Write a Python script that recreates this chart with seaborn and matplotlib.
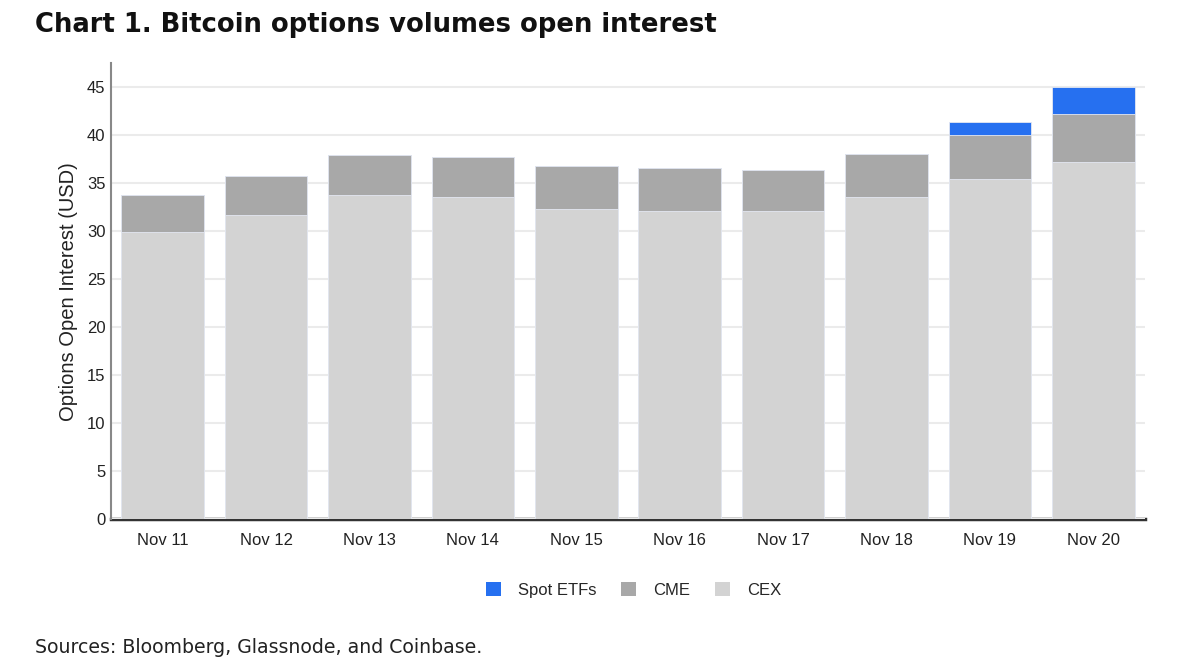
import matplotlib
matplotlib.use("Agg")
import matplotlib.pyplot as plt
from matplotlib.patches import Patch
import numpy as np
import pandas as pd
import seaborn as sns

# values (USD bn)
dates = ["Nov 11", "Nov 12", "Nov 13", "Nov 14", "Nov 15",
         "Nov 16", "Nov 17", "Nov 18", "Nov 19", "Nov 20"]
cex = [29.9, 31.7, 33.8, 33.6, 32.3, 32.1, 32.1, 33.6, 35.4, 37.2]
cme = [3.9, 4.0, 4.1, 4.1, 4.5, 4.5, 4.3, 4.4, 4.6, 5.0]
spot_etfs = [0, 0, 0, 0, 0, 0, 0, 0, 1.4, 2.8]

series_names = ["Spot ETFs", "CME", "CEX"]
colors = {"Spot ETFs": "#2670f0", "CME": "#a8a8a8", "CEX": "#d3d3d3"}

df = pd.DataFrame({"date": dates, "CEX": cex, "CME": cme, "Spot ETFs": spot_etfs})
df["cme_top"] = df["CEX"] + df["CME"]
df["etf_top"] = df["cme_top"] + df["Spot ETFs"]

sns.set_theme(style="white")
plt.rcParams["font.family"] = ["Liberation Sans", "DejaVu Sans"]

fig = plt.figure(figsize=(12, 6.69), dpi=100)
ax = fig.add_axes([0.0925, 0.2238, 0.8617, 0.682])

# stacked bars: draw cumulative totals from the top layer down
sns.barplot(data=df, x="date", y="etf_top", color=colors["Spot ETFs"], width=0.8,
            saturation=1, ax=ax, edgecolor="#e4e8f2", linewidth=0.6)
sns.barplot(data=df, x="date", y="cme_top", color=colors["CME"], width=0.8,
            saturation=1, ax=ax, edgecolor="#e4e8f2", linewidth=0.6)
sns.barplot(data=df, x="date", y="CEX", color=colors["CEX"], width=0.8,
            saturation=1, ax=ax, edgecolor="#e4e8f2", linewidth=0.6)

ax.set_xlim(-0.5, 9.5)
ax.set_ylim(0, 47.5)
ax.set_yticks(np.arange(0, 50, 5))
ax.yaxis.grid(True, color="#ebebeb", linewidth=1.5)
ax.set_axisbelow(True)

ax.set_xlabel("")
ax.set_ylabel("Options Open Interest (USD)", fontsize=14.5, color="#222222", labelpad=6)
ax.tick_params(axis="both", length=0, labelsize=12, labelcolor="#222222")
ax.tick_params(axis="x", pad=10)
ax.tick_params(axis="y", pad=4)

for side in ["top", "right"]:
    ax.spines[side].set_visible(False)
ax.spines["left"].set_color("#888888")
ax.spines["left"].set_linewidth(1.5)
ax.spines["bottom"].set_color("#333333")
ax.spines["bottom"].set_linewidth(2.5)
ax.spines["bottom"].set_zorder(0.5)

handles = [Patch(facecolor=colors[n], edgecolor="none") for n in series_names]
fig.legend(handles, series_names, loc="center", bbox_to_anchor=(0.528, 0.118),
           ncol=3, frameon=False, fontsize=12, handlelength=0.9, handleheight=0.9,
           handletextpad=1.0, columnspacing=1.5)

fig.text(0.029, 1 - 32 / 669, "Chart 1. Bitcoin options volumes open interest",
         fontsize=18.6, fontweight="bold", family="DejaVu Sans", color="#111111",
         va="baseline", ha="left")
fig.text(0.029, 1 - 653 / 669, "Sources: Bloomberg, Glassnode, and Coinbase.",
         fontsize=13.6, family="DejaVu Sans", color="#222222", va="baseline", ha="left")

fig.savefig("out.png", dpi=100)
